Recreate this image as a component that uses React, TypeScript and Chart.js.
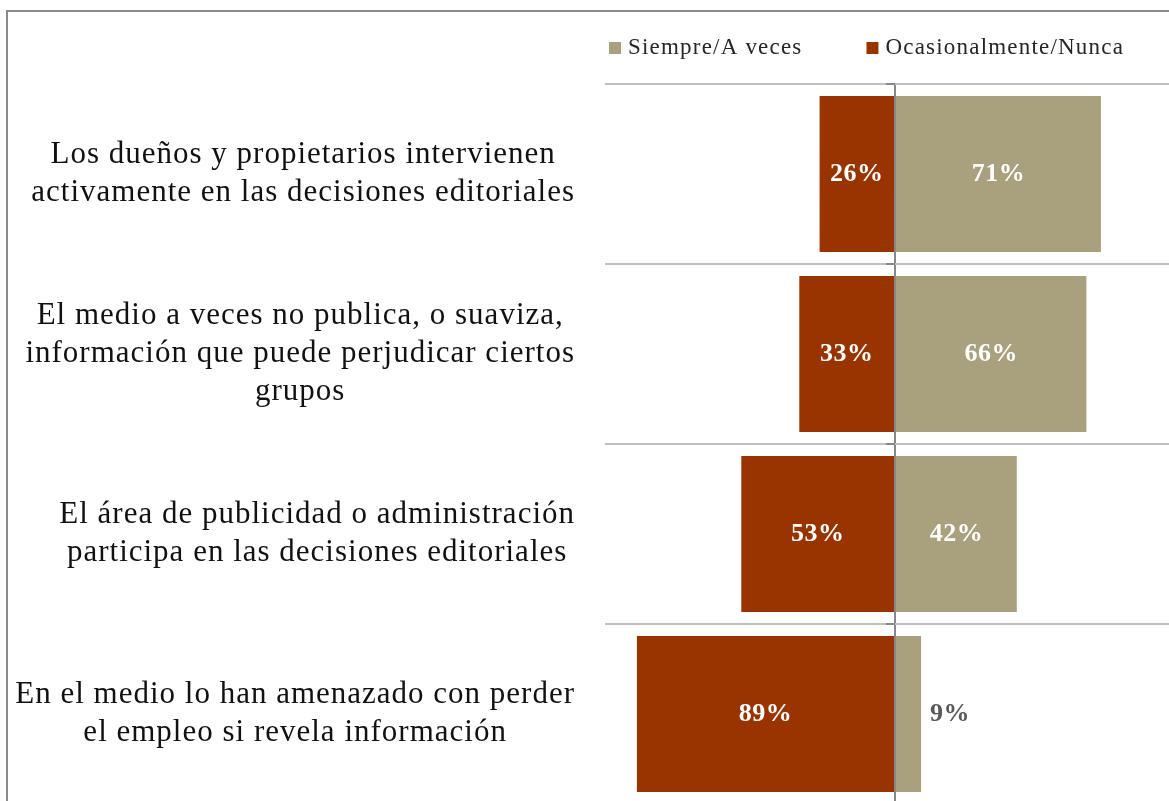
import React, { useEffect, useRef } from "react";
import { Chart, registerables } from "chart.js";

Chart.register(...registerables);

const categories: string[][] = [
  ["Los dueños y propietarios intervienen", "activamente en las decisiones editoriales"],
  ["El medio a veces no publica, o suaviza,", "información que puede perjudicar ciertos", "grupos"],
  ["El área de publicidad o administración", "participa en las decisiones editoriales"],
  ["En el medio lo han amenazado con perder", "el empleo si revela información"],
];
const siempreValues = [71, 66, 42, 9];
const nuncaValues = [26, 33, 53, 89];
const seriesNames = ["Siempre/A veces", "Ocasionalmente/Nunca"];
const seriesColors = ["#A9A17D", "#993300"];

const FONT = '"Liberation Serif", "DejaVu Serif", serif';

const catLabelsPlugin = {
  id: "catLabels",
  afterDraw(chart: any) {
    const { ctx, chartArea } = chart;
    const y = chart.scales.y;
    const x = chart.scales.x;
    ctx.save();
    ctx.font = `31px ${FONT}`;
    (ctx as any).letterSpacing = "1px";
    ctx.fillStyle = "#111111";
    ctx.textBaseline = "middle";
    ctx.textAlign = "center";
    const lh = 38;
    categories.forEach((lines, i) => {
      const cy = y.getPixelForValue(i);
      const w = Math.max(...lines.map((l) => ctx.measureText(l).width));
      const right = chartArea.left - 30;
      const cx = right - w / 2;
      lines.forEach((l, j) => {
        ctx.fillText(l, cx, cy + (j - (lines.length - 1) / 2) * lh);
      });
    });
    // small ticks on zero line at category boundaries
    const x0 = x.getPixelForValue(0);
    ctx.strokeStyle = "#878787";
    ctx.lineWidth = 2;
    const step = y.getPixelForValue(1) - y.getPixelForValue(0);
    for (let i = 0; i <= categories.length; i++) {
      const gy = y.getPixelForValue(0) - step / 2 + i * step;
      ctx.beginPath();
      ctx.moveTo(x0 - 9, gy);
      ctx.lineTo(x0, gy);
      ctx.stroke();
    }
    // legend
    ctx.font = `23px ${FONT}`;
    (ctx as any).letterSpacing = "1.2px";
    ctx.textAlign = "left";
    let lx = chartArea.left + 4;
    const ly = chartArea.top - 36;
    chart.data.datasets.forEach((ds: any) => {
      ctx.fillStyle = ds.backgroundColor;
      ctx.fillRect(lx, ly - 6, 12, 12);
      ctx.fillStyle = "#262626";
      ctx.fillText(ds.label, lx + 19, ly);
      lx += 19 + ctx.measureText(ds.label).width + 64;
    });
    ctx.restore();
  },
};

const valueLabelsPlugin = {
  id: "valueLabels",
  afterDatasetsDraw(chart: any) {
    const { ctx } = chart;
    ctx.save();
    ctx.font = `bold 26px ${FONT}`;
    (ctx as any).letterSpacing = "0.5px";
    ctx.textBaseline = "middle";
    chart.data.datasets.forEach((ds: any, di: number) => {
      const meta = chart.getDatasetMeta(di);
      meta.data.forEach((bar: any, i: number) => {
        const v = Math.abs(ds.data[i]);
        const w = Math.abs(bar.x - bar.base);
        const text = `${v}%`;
        if (w > 50) {
          ctx.fillStyle = "#FFFFFF";
          ctx.textAlign = "center";
          ctx.fillText(text, (bar.x + bar.base) / 2, bar.y);
        } else {
          ctx.fillStyle = "#595959";
          ctx.textAlign = "left";
          ctx.fillText(text, Math.max(bar.x, bar.base) + 9, bar.y);
        }
      });
    });
    ctx.restore();
  },
};

export default function App() {
  const ref = useRef<HTMLCanvasElement>(null);
  useEffect(() => {
    if (!ref.current) return;
    const chart = new Chart(ref.current, {
      type: "bar",
      data: {
        labels: categories.map((c) => c.join(" ")),
        datasets: [
          {
            label: seriesNames[0],
            data: siempreValues,
            backgroundColor: seriesColors[0],
            stack: "s",
            barPercentage: 0.867,
            categoryPercentage: 1,
          },
          {
            label: seriesNames[1],
            data: nuncaValues.map((v) => -v),
            backgroundColor: seriesColors[1],
            stack: "s",
            barPercentage: 0.867,
            categoryPercentage: 1,
          },
        ],
      },
      options: {
        indexAxis: "y",
        animation: false,
        responsive: true,
        maintainAspectRatio: false,
        layout: { padding: { left: 597, right: 65, top: 72, bottom: 88 } },
        plugins: { legend: { display: false }, tooltip: { enabled: false } },
        scales: {
          x: {
            type: "linear",
            min: -100,
            max: 100,
            stacked: true,
            z: 1,
            ticks: { display: false, stepSize: 100 },
            border: { display: false },
            grid: {
              drawTicks: false,
              lineWidth: 2,
              color: (c: any) => (c.tick && c.tick.value === 0 ? "#878787" : "rgba(0,0,0,0)"),
            },
            afterFit: (s: any) => {
              s.height = 0;
            },
          },
          y: {
            type: "category",
            stacked: true,
            offset: true,
            ticks: { display: false },
            border: { display: false },
            grid: { offset: true, drawTicks: false, color: "#C0C0C0", lineWidth: 2 },
            afterFit: (s: any) => {
              s.width = 0;
            },
          },
        },
      },
      plugins: [catLabelsPlugin, valueLabelsPlugin],
    });
    return () => chart.destroy();
  }, []);
  return (
    <div
      style={{
        position: "fixed",
        left: 6,
        top: 10,
        width: 1300,
        height: 900,
        borderLeft: "2px solid #898989",
        borderTop: "2px solid #898989",
        background: "#fff",
      }}
    >
      <div style={{ position: "relative", width: 1242, height: 880 }}>
        <canvas ref={ref} />
      </div>
    </div>
  );
}
